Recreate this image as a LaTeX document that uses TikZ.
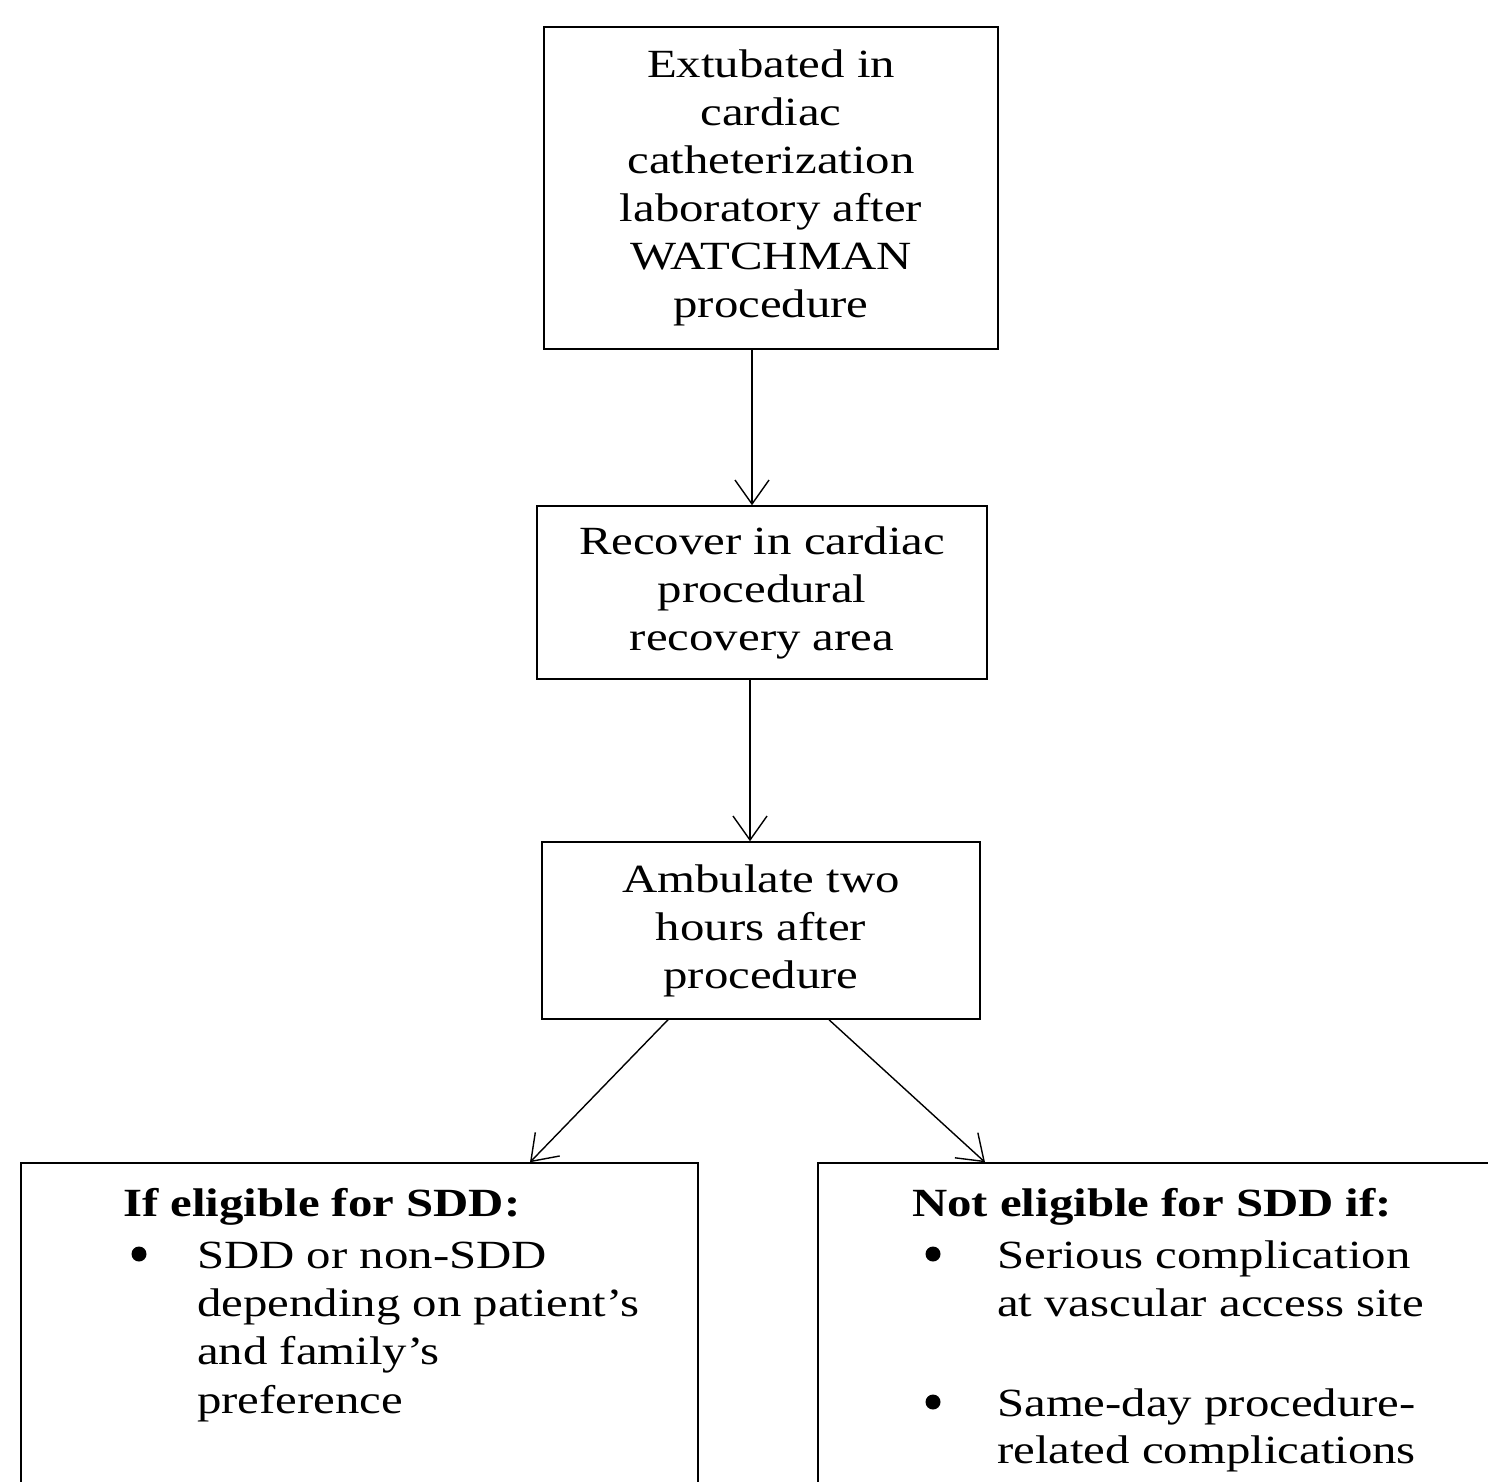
\documentclass[tikz,border=0pt]{standalone}
\usepackage{fontspec}
\setmainfont{Liberation Serif}[FakeStretch=1.22]
\usetikzlibrary{arrows.meta}
\begin{document}
\begin{tikzpicture}[x=1pt,y=-1pt,
  box/.style={draw, line width=1.5pt, inner sep=0pt, align=center,
    font=\fontsize{40pt}{48pt}\selectfont},
  txt/.style={anchor=base west, inner sep=0pt, font=\fontsize{40pt}{48pt}\selectfont},
  hd/.style={txt, font=\fontsize{40pt}{48pt}\selectfont\bfseries},
  bul/.style={circle, fill=black, inner sep=0pt, minimum size=15pt},
  arr/.style={line width=1.4pt, -{Straight Barb[length=24pt,width=34pt,line width=1.4pt]}}]
\useasboundingbox (0,0) rectangle (1488,1482);
\clip (0,0) rectangle (1488,1482);
\node[box, minimum width=454pt, minimum height=322pt] (b1) at (771,188)
  {Extubated in\\cardiac\\catheterization\\laboratory after\\WATCHMAN\\procedure};
\node[box, minimum width=450pt, minimum height=173pt] (b2) at (762,592.5)
  {Recover in cardiac\\procedural\\recovery area};
\node[box, minimum width=438pt, minimum height=177pt] (b3) at (761,930.5)
  {Ambulate two\\hours after\\procedure};
\node[box, minimum width=677pt, minimum height=337pt] (b4) at (359.5,1331.5) {};
\node[box, minimum width=702pt, minimum height=337pt] (b5) at (1169,1331.5) {};
\node[hd] (h4) at (123,1216) {If eligible for SDD:};
\node[bul] (d1) at (139,1254) {};
\node[txt] (l1) at (197,1268) {SDD or non-SDD};
\node[txt] (l2) at (197,1316) {depending on patient’s};
\node[txt] (l3) at (197,1364) {and family’s};
\node[txt] (l4) at (197,1413) {preference};
\node[hd] (h5) at (912,1216) {Not eligible for SDD if:};
\node[bul] (d2) at (933,1254) {};
\node[txt] (r1) at (997,1268) {Serious complication};
\node[txt] (r2) at (997,1316) {at vascular access site};
\node[bul] (d3) at (933,1402) {};
\node[txt] (r3) at (997,1416) {Same-day procedure-};
\node[txt] (r4) at (997,1463) {related complications};
\draw[arr] ([xshift=-19pt]b1.south) -- ([xshift=-10pt]b2.north);
\draw[arr] ([xshift=-12pt]b2.south) -- ([xshift=-11pt]b3.north);
\draw[arr] ([xshift=-93pt]b3.south) -- ([xshift=170.5pt]b4.north);
\draw[arr] ([xshift=68pt]b3.south) -- ([xshift=-184pt]b5.north);
\end{tikzpicture}
\end{document}
